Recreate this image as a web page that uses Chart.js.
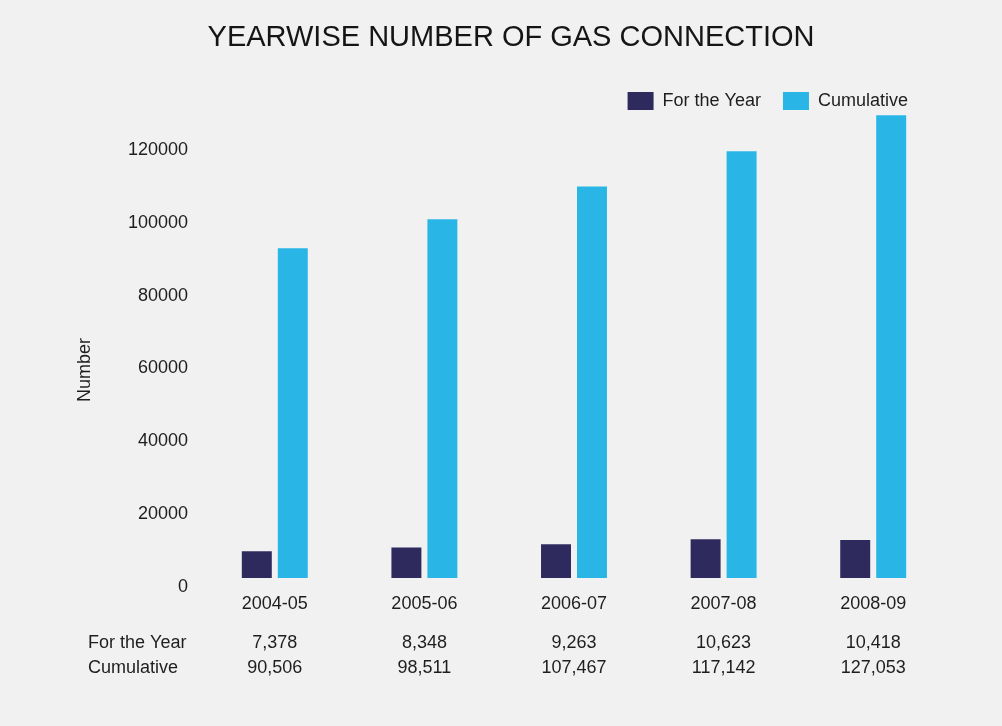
<!DOCTYPE html>
<html>
<head>
<meta charset="utf-8">
<script src="https://cdn.jsdelivr.net/npm/chart.js@4"></script>
<style>
html,body{margin:0;padding:0;background:#f1f1f1;}
#wrap{width:1002px;height:726px;}
</style>
</head>
<body>
<div id="wrap"><canvas id="c" width="1002" height="726"></canvas></div>
<script>
const categories = ['2004-05', '2005-06', '2006-07', '2007-08', '2008-09'];
const forTheYear = [7378, 8348, 9263, 10623, 10418];
const cumulative = [90506, 98511, 107467, 117142, 127053];
const seriesNames = ['For the Year', 'Cumulative'];
const yTickValues = [0, 20000, 40000, 60000, 80000, 100000, 120000];
const chartTitle = 'YEARWISE NUMBER OF GAS CONNECTION';
const yAxisTitle = 'Number';

const FONT = '"Liberation Sans", Arial, Helvetica, sans-serif';
const TEXT = '#1e1e1e';
Chart.defaults.font.family = FONT;
Chart.defaults.color = TEXT;

const fmt = v => v.toLocaleString('en-US');

const bgPlugin = {
  id: 'bg',
  beforeDraw(chart) {
    const ctx = chart.ctx;
    ctx.save();
    ctx.fillStyle = '#f1f1f1';
    ctx.fillRect(0, 0, chart.width, chart.height);
    ctx.restore();
  }
};

const layoutTweak = {
  id: 'layoutTweak',
  afterLayout(chart) {
    const lg = chart.legend;
    if (lg) {
      const h = lg.height;
      lg.top = 70; lg.bottom = lg.top + h;
      lg.left -= 18; lg.right -= 18;
    }
    const t = chart.titleBlock;
    if (t) {
      const h = t.height;
      t.top = 21; t.bottom = t.top + h;
      t.left += 37; t.right += 37;
    }
  }
};

const tablePlugin = {
  id: 'table',
  afterDraw(chart) {
    const ctx = chart.ctx;
    const xs = chart.scales.x;
    ctx.save();
    ctx.font = '18px ' + FONT;
    ctx.fillStyle = TEXT;
    ctx.textBaseline = 'middle';
    ctx.textAlign = 'left';
    ctx.fillText(seriesNames[0], 88, 643);
    ctx.fillText(seriesNames[1], 88, 668);
    ctx.textAlign = 'center';
    categories.forEach((c, i) => {
      const px = xs.getPixelForValue(i);
      ctx.fillText(fmt(forTheYear[i]), px, 643);
      ctx.fillText(fmt(cumulative[i]), px, 668);
    });
    ctx.restore();
  }
};

new Chart(document.getElementById('c'), {
  type: 'bar',
  data: {
    labels: categories,
    datasets: [
      { label: seriesNames[0], data: forTheYear, backgroundColor: '#2f2a5e',
        categoryPercentage: 0.481, barPercentage: 0.833 },
      { label: seriesNames[1], data: cumulative, backgroundColor: '#29b6e7',
        categoryPercentage: 0.481, barPercentage: 0.833 }
    ]
  },
  options: {
    responsive: false,
    animation: false,
    layout: { padding: { left: 0, right: 54, top: 0, bottom: 0 } },
    plugins: {
      title: {
        display: true,
        text: chartTitle,
        color: '#151515',
        font: { size: 29, weight: 'normal', family: FONT },
        padding: { top: 0, bottom: 27 }
      },
      legend: {
        position: 'top',
        align: 'end',
        labels: {
          boxWidth: 26, boxHeight: 18, padding: 22,
          color: TEXT,
          font: { size: 18, family: FONT }
        }
      },
      tooltip: { enabled: false }
    },
    scales: {
      x: {
        grid: { display: false },
        border: { display: false },
        ticks: { padding: 7, color: TEXT, font: { size: 18 } },
        afterFit(scale) { scale.height = 148; }
      },
      y: {
        min: 0,
        max: 128000,
        grid: { display: false },
        border: { display: false },
        ticks: {
          padding: 4,
          labelOffset: 9,
          autoSkip: false,
          color: TEXT,
          font: { size: 18 },
          callback: (v) => String(v)
        },
        afterBuildTicks(scale) {
          scale.ticks = yTickValues.map(v => ({ value: v }));
        },
        title: {
          display: true,
          text: yAxisTitle,
          color: TEXT,
          font: { size: 18 },
          padding: { top: 74, bottom: 0 }
        },
        afterFit(scale) { scale.width = 200; },
        afterUpdate(scale) {
          if (!scale._titleShifted) {
            const orig = scale.drawTitle;
            scale.drawTitle = function () {
              this.top += 25; this.bottom += 25;
              orig.call(this);
              this.top -= 25; this.bottom -= 25;
            };
            scale._titleShifted = true;
          }
        }
      }
    }
  },
  plugins: [bgPlugin, layoutTweak, tablePlugin]
});
</script>
</body>
</html>
